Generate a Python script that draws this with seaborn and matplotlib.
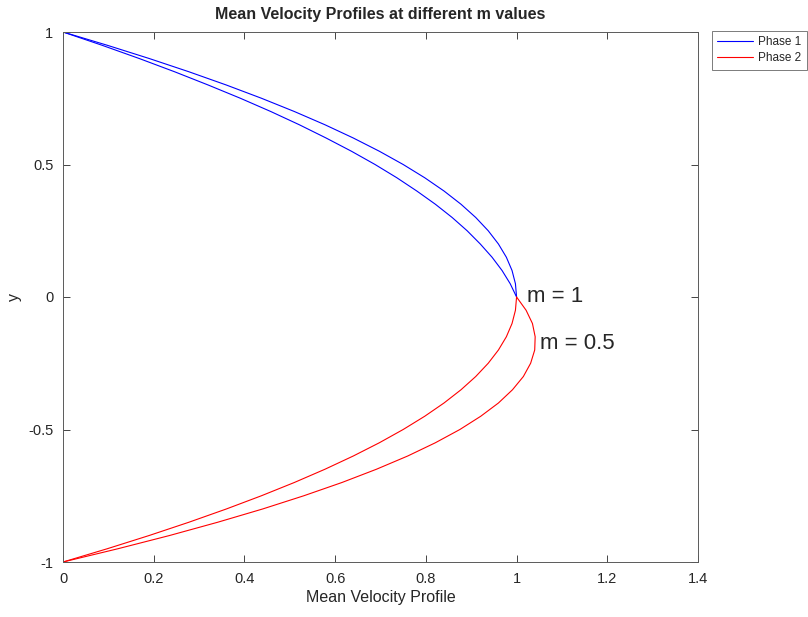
import numpy as np
import pandas as pd
import matplotlib
matplotlib.use("Agg")
import matplotlib.pyplot as plt
import seaborn as sns

# ---- data ----
y_phase1 = [0, .05, .1, .15, .2, .25, .3, .35, .4, .45, .5, .55, .6, .65, .7, .75, .8, .85, .9, .95, 1]
y_phase2 = [0, -.05, -.1, -.15, -.2, -.25, -.3, -.35, -.4, -.45, -.5, -.55, -.6, -.65, -.7, -.75, -.8, -.85, -.9, -.95, -1]

u1_m1 = [1, .9975, .99, .9775, .96, .9375, .91, .8775, .84, .7975, .75, .6975, .64, .5775, .51, .4375, .36, .2775, .19, .0975, 0]
u2_m1 = [1, .9975, .99, .9775, .96, .9375, .91, .8775, .84, .7975, .75, .6975, .64, .5775, .51, .4375, .36, .2775, .19, .0975, 0]
u1_m05 = [1, .986, .968, .946, .92, .891, .858, .821, .78, .736, .688, .636, .58, .521, .458, .391, .32, .246, .168, .086, 0]
u2_m05 = [1, 1.021, 1.035, 1.041, 1.04, 1.031, 1.015, .991, .96, .921, .875, .821, .76, .691, .615, .531, .44, .341, .235, .121, 0]

x_ticks = [0, 0.2, 0.4, 0.6, 0.8, 1, 1.2, 1.4]
x_tick_labels = ["0", "0.2", "0.4", "0.6", "0.8", "1", "1.2", "1.4"]
y_ticks = [-1, -0.5, 0, 0.5, 1]
y_tick_labels = ["-1", "-0.5", "0", "0.5", "1"]

frames = []
for phase, m, u, y in [("Phase 1", "1", u1_m1, y_phase1),
                       ("Phase 2", "1", u2_m1, y_phase2),
                       ("Phase 1", "0.5", u1_m05, y_phase1),
                       ("Phase 2", "0.5", u2_m05, y_phase2)]:
    frames.append(pd.DataFrame({"u": u, "y": y, "phase": phase, "run": phase + m}))
df = pd.concat(frames, ignore_index=True)

sns.set_style("ticks")
plt.rcParams["font.family"] = ["Liberation Sans", "DejaVu Sans"]

fig = plt.figure(figsize=(8.08, 6.17), dpi=100)
ax = fig.add_axes([63 / 808, 1 - 562 / 617, (698 - 63) / 808, (562 - 32) / 617])

sns.lineplot(data=df, x="u", y="y", hue="phase", units="run", estimator=None,
             sort=False, palette={"Phase 1": "#0000ff", "Phase 2": "#ff0000"},
             linewidth=0.8, ax=ax)

ax.set_xlim(0, 1.4)
ax.set_ylim(-1, 1)
ax.set_xticks(x_ticks)
ax.set_xticklabels(x_tick_labels)
ax.set_yticks(y_ticks)
ax.set_yticklabels(y_tick_labels)
ax.tick_params(direction="in", top=True, right=True, length=5, width=0.6,
               colors="#262626", labelsize=10.5, pad=7)
for s in ax.spines.values():
    s.set_visible(True)
    s.set_color("#5a5a5a")
    s.set_linewidth(0.7)

ax.set_xlabel("Mean Velocity Profile", fontsize=11.5, color="#262626", labelpad=3)
ax.set_ylabel("y", fontsize=11.5, color="#262626", labelpad=4)
ax.set_title("Mean Velocity Profiles at different m values", fontsize=11.5,
             fontweight="bold", pad=9)

ax.text(1.022, 0.0, "m = 1", fontsize=16, va="center", ha="left")
ax.text(1.051, -0.177, "m = 0.5", fontsize=16, va="center", ha="left")

leg = ax.legend(loc="upper left", bbox_to_anchor=(1.022, 1.002), borderaxespad=0,
                frameon=True, fancybox=False, fontsize=8.5, handlelength=3.0,
                borderpad=0.45, labelspacing=0.35, handletextpad=0.45, title=None)
leg.get_frame().set_edgecolor("#5a5a5a")
leg.get_frame().set_linewidth(0.7)

fig.savefig("out.png", dpi=100)
